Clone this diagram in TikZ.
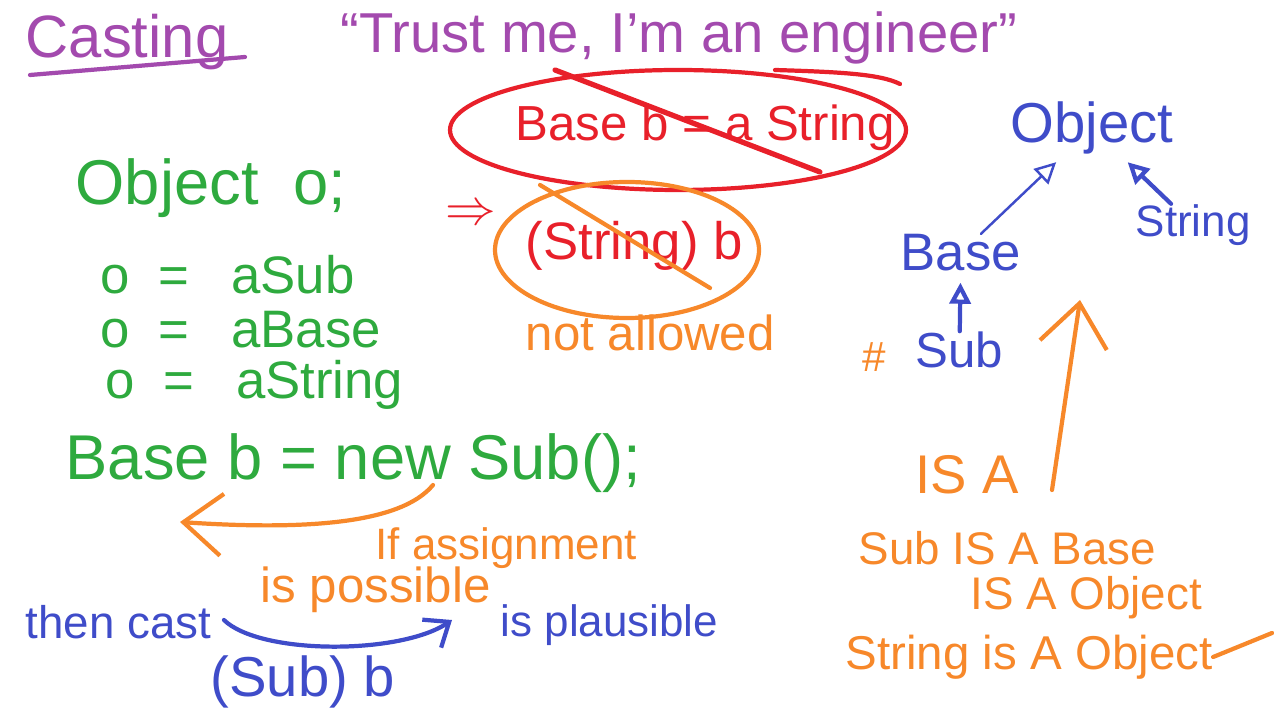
\documentclass[tikz,border=0pt]{standalone}
\usepackage{fontspec}
\setmainfont{Liberation Sans}
\usetikzlibrary{arrows.meta,positioning}
\definecolor{inkpurple}{HTML}{A34AAE}
\definecolor{inkred}{HTML}{E8202A}
\definecolor{inkorange}{HTML}{F7882A}
\definecolor{inkgreen}{HTML}{2EAA3E}
\definecolor{inkblue}{HTML}{3F4CC9}
\tikzset{
  hand/.style={inner sep=0pt, anchor=west},
  sz/.style={font=\fontsize{#1}{#1}\selectfont},
  pen/.style={line width=1.2pt, line cap=round, line join=round},
  uml/.style={pen, inkblue, -{Triangle[open, length=6pt, width=6pt]}, shorten >=3pt},
  barb/.style={pen, -{Straight Barb[length=#1, width=1.6*#1]}}
}
\begin{document}
\begin{tikzpicture}[x=0.01cm, y=-0.01cm]
\useasboundingbox (0,0) rectangle (1283,722);
% title
\node[hand, sz=17, inkpurple] (casting) at (25,42) {Casting};
\draw[pen, inkpurple] (30,75) -- (245,57);
\node[hand, sz=16, inkpurple] (quote) at (340,38) {``Trust me, I'm an engineer''};
% not allowed: string to base
\draw[pen, inkred] (678,130) ellipse [x radius=228, y radius=60];
\draw[pen, inkred] (775,70) .. controls (840,72) and (880,74) .. (900,84);
\node[hand, sz=14, inkred] (badassign) at (515,128) {Base b = a String};
\draw[pen, inkred, line width=1.5pt] (555,70) -- (820,172);
\node[hand, sz=14, inkred] (implies) at (445,215) {$\Rightarrow$};
\draw[pen, inkorange] (627,250) ellipse [x radius=132, y radius=68];
\node[hand, sz=15, inkred] (badcast) at (525,246) {(String) b};
\draw[pen, inkorange] (540,185) -- (710,288);
\node[hand, sz=14, inkorange] (notallowed) at (525,333) {not allowed};
% object assignments
\node[hand, sz=18, inkgreen] (objdecl) at (75,188) {Object\hspace{10pt}o;};
\node[hand, sz=15, inkgreen] (osub) at (100,275) {o\hspace{8pt}=\hspace{12pt}aSub};
\node[hand, sz=15, inkgreen] (obase) at (100,330) {o\hspace{8pt}=\hspace{12pt}aBase};
\node[hand, sz=15, inkgreen] (ostring) at (105,385) {o\hspace{8pt}=\hspace{12pt}aString};
\node[hand, sz=18, inkgreen] (newsub) at (65,463) {Base b = new Sub();};
% if assignment ...
\coordinate (ifstart) at (433,485);
\coordinate (ifend) at (180,522);
\draw[barb=11pt, inkorange] (ifstart) .. controls (400,525) and (300,530) .. (ifend);
\node[hand, sz=12.5, inkorange] (ifassign) at (375,548) {If assignment};
\node[hand, sz=14, inkorange] (possible) at (260,590) {is possible};
% ... then cast
\node[hand, sz=13, inkblue] (thencast) at (25,622) {then cast};
\node[hand, sz=12.5, inkblue] (plausible) at (500,625) {is plausible};
\node[hand, sz=16, inkblue] (subcast) at (210,682) {(Sub) b};
\draw[barb=6pt, inkblue] (thencast.east) ++(12,-2) .. controls (260,655) and (400,655) .. (452,620);
% class hierarchy
\node[hand, sz=16, inkblue] (object) at (1010,128) {Object};
\node[hand, sz=15, inkblue] (base) at (900,253) {Base};
\node[hand, sz=12.5, inkblue] (string) at (1135,225) {String};
\node[hand, sz=14, inkblue] (sub) at (915,350) {Sub};
\node[hand, sz=12, inkorange] (mark) at (862,357) {\#};
\draw[uml, line width=0.7pt] (base) -- (object);
\draw[uml] (string) -- (object);
\draw[uml] (sub) -- (base);
% is a
\coordinate (isatail) at (1052,490);
\coordinate (isahead) at (1080,300);
\draw[barb=12pt, inkorange] (isatail) -- (isahead);
\node[hand, sz=15.5, inkorange] (isa) at (915,475) {IS A};
\node[hand, sz=13, inkorange] (subisa) at (858,548) {Sub IS A Base};
\node[hand, sz=13, inkorange] (subisobj) at (970,598) {IS A Object};
\node[hand, sz=13.5, inkorange] (strisobj) at (845,657) {String is A Object};
\coordinate (tail) at (1272,633);
\draw[pen, inkorange] (strisobj.east) -- (tail);
\end{tikzpicture}
\end{document}
